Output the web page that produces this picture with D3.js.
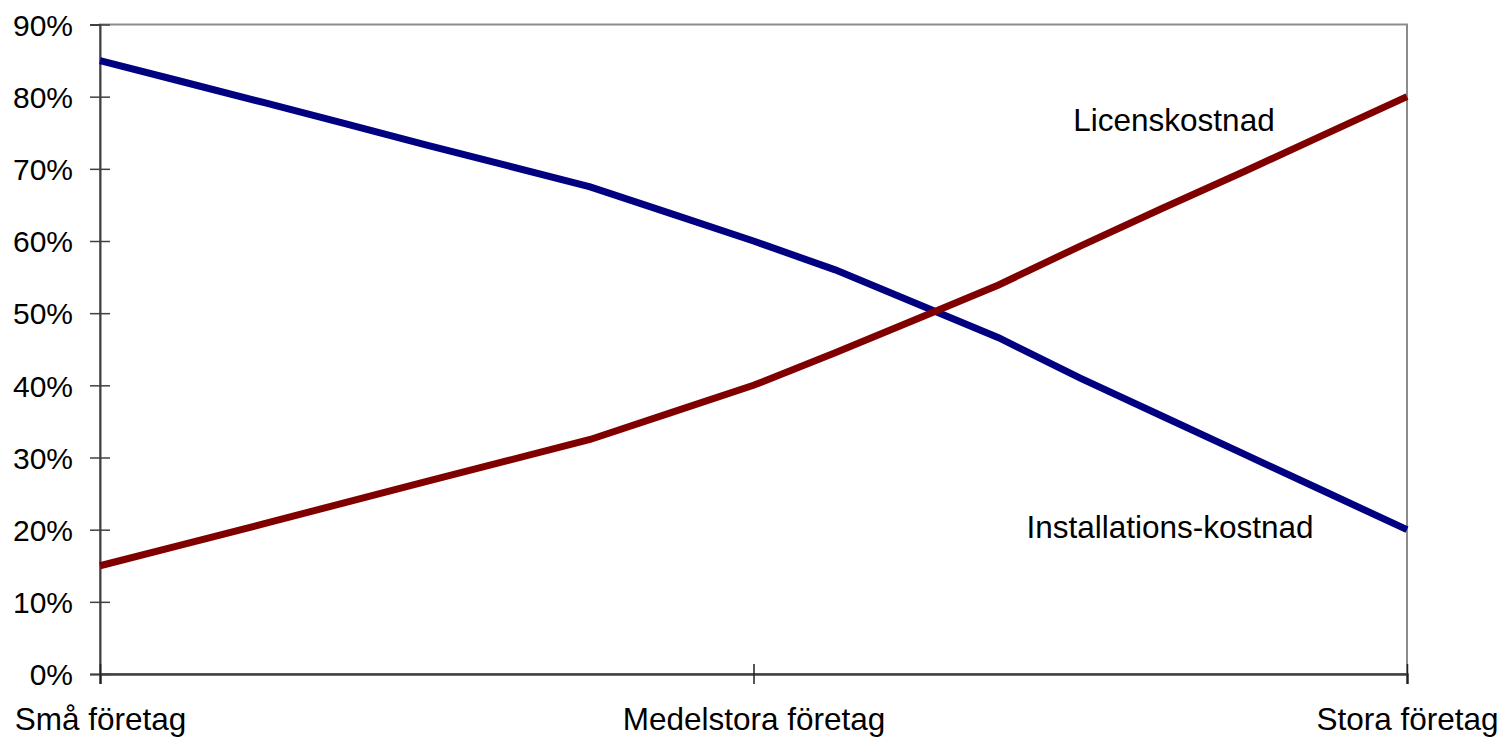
<!DOCTYPE html>
<html>
<head>
<meta charset="utf-8">
<script src="https://cdn.jsdelivr.net/npm/d3@7"></script>
<style>
	html, body { margin: 0; padding: 0; background: #fff; }
	text { font-family: 'Liberation Sans', Arial, sans-serif; fill: #000; }
</style>
</head>
<body>
<div id="chart"></div>
<script>
// Points along the x axis (only 0, 8 and 16 carry a label)
const steps = [0, 1, 2, 3, 4, 5, 6, 7, 8, 9, 10, 11, 12, 13, 14, 15, 16];
const tickSteps = [0, 8, 16];
const tickLabels = ['Små företag', 'Medelstora företag', 'Stora företag'];

// Series values in percent
const installation = [85, 82.1, 79.2, 76.25, 73.3, 70.4, 67.5, 63.75, 60, 56, 51.3, 46.6, 41, 35.75, 30.5, 25.25, 20];
const licens = [15, 17.9, 20.8, 23.75, 26.7, 29.6, 32.5, 36.25, 40, 44.5, 49.2, 53.9, 59.3, 64.5, 69.6, 74.8, 80];

const yTicks = [0, 10, 20, 30, 40, 50, 60, 70, 80, 90];

const width = 1500;
const height = 738;
const marginTop = 24.5;
const marginRight = 93;
const marginBottom = 64;
const marginLeft = 100;

const svg = d3.select('#chart')
	.append('svg')
	.attr('width', width)
	.attr('height', height)
	.attr('viewBox', [0, 0, width, height]);

const x = d3.scalePoint()
	.domain(steps)
	.range([marginLeft, width - marginRight]);

const y = d3.scaleLinear()
	.domain([0, 90])
	.range([height - marginBottom, marginTop]);

// Plot frame (top and right side are lighter grey)
svg.append('rect')
	.attr('x', marginLeft)
	.attr('y', marginTop)
	.attr('width', width - marginLeft - marginRight)
	.attr('height', height - marginTop - marginBottom)
	.attr('fill', 'none')
	.attr('stroke', '#8c8c8c')
	.attr('stroke-width', 2);

// Y axis
const yAxis = svg.append('g')
	.attr('transform', 'translate(' + marginLeft + ',0)')
	.call(d3.axisLeft(y).tickValues(yTicks).tickSize(10).tickPadding(0).tickFormat((d) => d + '%'));
yAxis.select('.domain').attr('stroke', '#404040').attr('stroke-width', 2);
yAxis.selectAll('.tick line').attr('x1', 10).attr('stroke', '#404040').attr('stroke-width', 1.5);
yAxis.selectAll('.tick text')
	.attr('x', -27)
	.attr('dy', '0.36em')
	.style('font-size', '30px')
	.style('font-family', "'Liberation Sans', Arial, sans-serif")
	.attr('fill', '#000');

// X axis
const xAxis = svg.append('g')
	.attr('transform', 'translate(0,' + (height - marginBottom) + ')')
	.call(d3.axisBottom(x).tickValues(tickSteps).tickSize(10).tickFormat((d) => tickLabels[tickSteps.indexOf(d)]));
xAxis.select('.domain').attr('stroke', '#404040').attr('stroke-width', 2.5);
xAxis.selectAll('.tick line').attr('y1', -10).attr('stroke', '#202020').attr('stroke-width', 1.5);
xAxis.selectAll('.tick text')
	.attr('y', 56)
	.attr('dy', 0)
	.style('font-size', '31.5px')
	.style('font-family', "'Liberation Sans', Arial, sans-serif")
	.attr('fill', '#000');

// Lines
const line = d3.line()
	.x((d, i) => x(steps[i]))
	.y((d) => y(d));

svg.append('path')
	.datum(installation)
	.attr('d', line)
	.attr('fill', 'none')
	.attr('stroke', '#000080')
	.attr('stroke-width', 7);

svg.append('path')
	.datum(licens)
	.attr('d', line)
	.attr('fill', 'none')
	.attr('stroke', '#800000')
	.attr('stroke-width', 7);

// Series labels
svg.append('text')
	.attr('x', 1174)
	.attr('y', 131)
	.attr('text-anchor', 'middle')
	.style('font-size', '31.5px')
	.text('Licenskostnad');

svg.append('text')
	.attr('x', 1170)
	.attr('y', 538)
	.attr('text-anchor', 'middle')
	.style('font-size', '31.5px')
	.text('Installations-kostnad');
</script>
</body>
</html>
